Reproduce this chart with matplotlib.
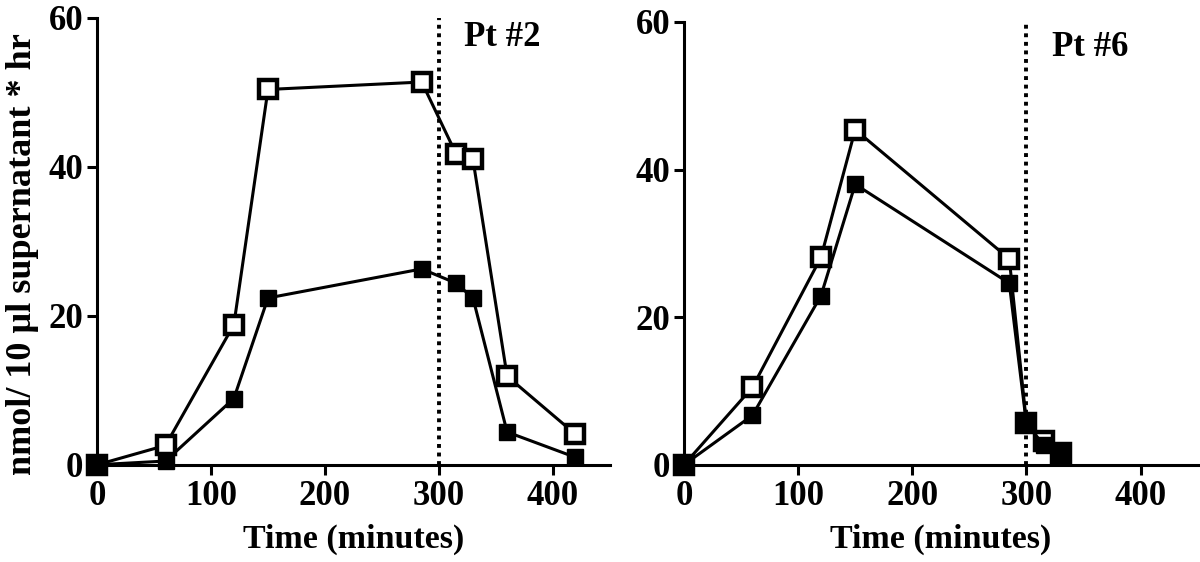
import matplotlib
matplotlib.use("Agg")
import matplotlib.pyplot as plt

# Pt #2
time_pt2   = [0, 60, 120, 150, 285, 315, 330, 360, 420]
open_pt2   = [0, 2.6, 18.8, 50.4, 51.4, 41.8, 41.0, 11.9, 4.1]
filled_pt2 = [0, 0.5, 8.9, 22.4, 26.3, 24.4, 22.4, 4.4, 1.0]

# Pt #6
time_pt6   = [0, 60, 120, 150, 285, 300, 315, 330]
open_pt6   = [0, 10.5, 28.1, 45.4, 27.9, 5.7, 3.2, 1.6]
filled_pt6 = [0, 6.7, 22.9, 38.0, 24.6, 5.6, 2.7, 1.5]

X_TICKS = [0, 100, 200, 300, 400]
Y_TICKS = [0, 20, 40, 60]
VLINE_X = 300

plt.rcParams["font.family"] = ["Liberation Serif", "DejaVu Serif"]
plt.rcParams["font.weight"] = "bold"

fig = plt.figure(figsize=(12, 5.62), dpi=100)

LW = 2.2


def draw_panel(ax, t, y_open, y_filled, label, label_y):
    ax.plot(t, y_open, color="black", lw=2.2, marker="s", markersize=13,
            markerfacecolor="white", markeredgecolor="black", markeredgewidth=3.2,
            clip_on=False, zorder=3)
    ax.plot(t, y_filled, color="black", lw=2.2, marker="s", markersize=12,
            markerfacecolor="black", markeredgecolor="black", clip_on=False, zorder=4)
    ax.plot([VLINE_X, VLINE_X], [0, 60], color="black", lw=2.8,
            linestyle=(0, (1.0, 1.2)), zorder=2, clip_on=False)
    ax.text(322, label_y, label, fontsize=25, fontweight="bold", ha="left", va="center")

    ax.set_xlim(0, 450)
    ax.set_ylim(0, 60)
    ax.set_xticks(X_TICKS)
    ax.set_yticks(Y_TICKS)
    for s in ["top", "right"]:
        ax.spines[s].set_visible(False)
    for s in ["left", "bottom"]:
        ax.spines[s].set_linewidth(LW)
    ax.tick_params(direction="out", length=7, width=LW, labelsize=25, pad=4)
    ax.tick_params(axis="y", pad=3)
    for lab in ax.get_xticklabels() + ax.get_yticklabels():
        lab.set_fontweight("bold")
    ax.set_xlabel("Time (minutes)", fontsize=24.5, fontweight="bold", labelpad=8)


ax1 = fig.add_axes([0.081, 0.173, 0.427, 0.795])
draw_panel(ax1, time_pt2, open_pt2, filled_pt2, "Pt #2", 57.4)
ax1.set_ylabel("nmol/ 10 µl supernatant * hr", fontsize=26, fontweight="bold")
ax1.yaxis.set_label_coords(-0.114, 0.472)

ax2 = fig.add_axes([0.570, 0.173, 0.428, 0.788])
draw_panel(ax2, time_pt6, open_pt6, filled_pt6, "Pt #6", 56.6)

fig.savefig("out.png", dpi=100)
